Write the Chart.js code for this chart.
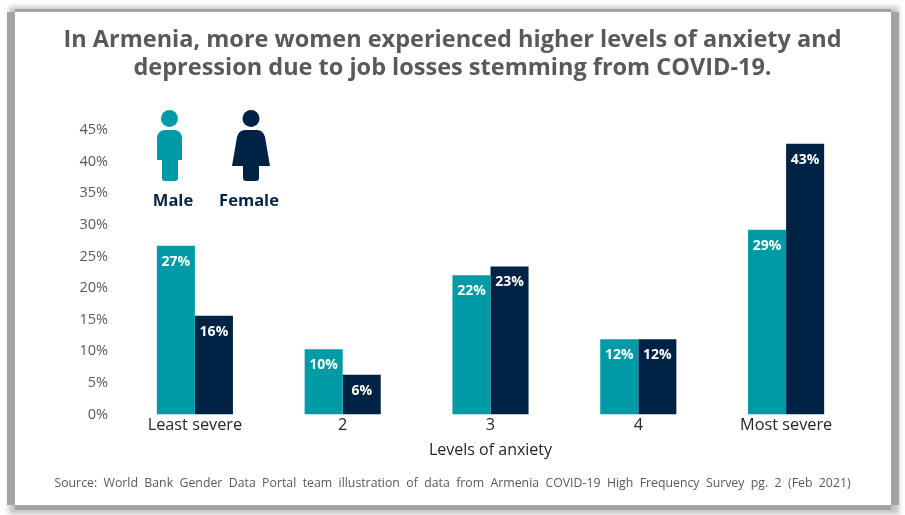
<!DOCTYPE html>
<html>
<head>
<meta charset="utf-8">
<script src="https://cdn.jsdelivr.net/npm/chart.js@4"></script>
<style>
  html, body { margin: 0; padding: 0; background: #fff; overflow: hidden; }
  #wrap { position: relative; width: 905px; height: 515px; }
  #frame {
    position: absolute; left: 15px; top: 12px; width: 876px; height: 493px;
    background: #fff;
    box-shadow: 0 0 0 1px #a6a6a6, -8px 0 0 0 #a3a3a3, 8px 0 0 0 #a3a3a3, 0 5px 0 0 #a3a3a3, 0 -3px 0 0 #a3a3a3, 1px 2px 5px 7px rgba(120,120,120,.45);
  }
  canvas { position: absolute; left: 0; top: 0; }
  .icon { position: absolute; top: 110px; width: 40px; height: 72px; }
</style>
</head>
<body>
<div id="wrap">
  <div id="frame"></div>
  <canvas id="c" width="905" height="515"></canvas>
  <svg class="icon" style="left:150px" viewBox="0 0 40 72">
    <circle cx="19.500" cy="8.500" r="8.500" fill="#009aa6"/>
    <path d="M7 28 a8 8 0 0 1 8-8 h9 a8 8 0 0 1 8 8 v22 h-4 v18 a3 3 0 0 1-3 3 h-10 a3 3 0 0 1-3-3 v-18 h-5z" fill="#009aa6"/>
  </svg>
  <svg class="icon" style="left:231px" viewBox="0 0 40 72">
    <circle cx="20" cy="8.500" r="8.500" fill="#002244"/>
    <path d="M14 20 h12 q6 0 8 7 l5 29 h-11 v12 a3 3 0 0 1-3 3 h-10 a3 3 0 0 1-3-3 v-12 h-11 l5-29 q2-7 8-7z" fill="#002244"/>
  </svg>
</div>
<script>
const categories = ['Least severe', '2', '3', '4', 'Most severe'];
const maleValues = [26.7, 10.3, 22, 11.9, 29.2];
const femaleValues = [15.6, 6.3, 23.4, 11.9, 42.8];
const maleLabels = ['27%', '10%', '22%', '12%', '29%'];
const femaleLabels = ['16%', '6%', '23%', '12%', '43%'];
const titleLines = [
  'In Armenia, more women experienced higher levels of anxiety and',
  'depression due to job losses stemming from COVID-19.',
];
const sourceText = 'Source:  World  Bank  Gender  Data  Portal  team  illustration  of  data  from  Armenia  COVID-19  High  Frequency  Survey  pg.  2  (Feb  2021)';

const TEAL = '#009aa6';
const NAVY = '#002244';
const FONT = '"Open Sans", sans-serif';

// white value labels just inside the top of each bar, plus the icon captions
const barLabelPlugin = {
  id: 'barLabels',
  afterDatasetsDraw(chart) {
    const { ctx } = chart;
    ctx.save();
    ctx.fillStyle = '#fff';
    ctx.font = `bold 14px ${FONT}`;
    ctx.textAlign = 'center';
    ctx.textBaseline = 'middle';
    chart.data.datasets.forEach((ds, i) => {
      chart.getDatasetMeta(i).data.forEach((bar, j) => {
        ctx.fillText(ds.valueLabels[j], bar.x, bar.y + 16);
      });
    });
    ctx.fillStyle = NAVY;
    ctx.font = `bold 16.5px ${FONT}`;
    ctx.fillText('Male', 173, 201);
    ctx.fillText('Female', 249, 201);
    ctx.restore();
  },
};

new Chart(document.getElementById('c'), {
  type: 'bar',
  plugins: [barLabelPlugin],
  data: {
    labels: categories,
    datasets: [
      { label: 'Male', data: maleValues, valueLabels: maleLabels, backgroundColor: TEAL },
      { label: 'Female', data: femaleValues, valueLabels: femaleLabels, backgroundColor: NAVY },
    ],
  },
  options: {
    responsive: false,
    animation: false,
    devicePixelRatio: 1,
    datasets: { bar: { barPercentage: 1, categoryPercentage: 0.515 } },
    plugins: {
      legend: { display: false },
      tooltip: { enabled: false },
      title: {
        display: true,
        text: titleLines,
        color: '#595959',
        font: { family: FONT, size: 23.5, weight: 'bold', lineHeight: 1.19 },
        padding: { top: 26, bottom: 48 },
      },
      subtitle: {
        display: true,
        position: 'bottom',
        text: sourceText,
        color: '#595959',
        font: { family: FONT, size: 12.3 },
        padding: { top: 16, bottom: 24 },
      },
    },
    scales: {
      x: {
        grid: { display: false },
        border: { display: false },
        ticks: { color: '#262626', font: { family: FONT, size: 16.3 }, padding: -6.5, maxRotation: 0 },
        title: {
          display: true,
          text: 'Levels of anxiety',
          color: '#262626',
          font: { family: FONT, size: 16 },
          padding: { top: 12, bottom: 0 },
        },
      },
      y: {
        min: 0,
        max: 45,
        afterFit(scale) { scale.width = 121; },
        grid: { display: false },
        border: { display: false },
        ticks: {
          stepSize: 5,
          color: '#595959',
          padding: 5,
          font: { family: FONT, size: 14.5 },
          callback: v => v + '%',
        },
      },
      // empty axis, only holds the right margin so the titles stay centred on the page
      yRight: {
        position: 'right',
        afterFit(scale) { scale.width = 45; },
        grid: { display: false },
        border: { display: false },
        ticks: { display: false },
      },
    },
  },
});
</script>
</body>
</html>
